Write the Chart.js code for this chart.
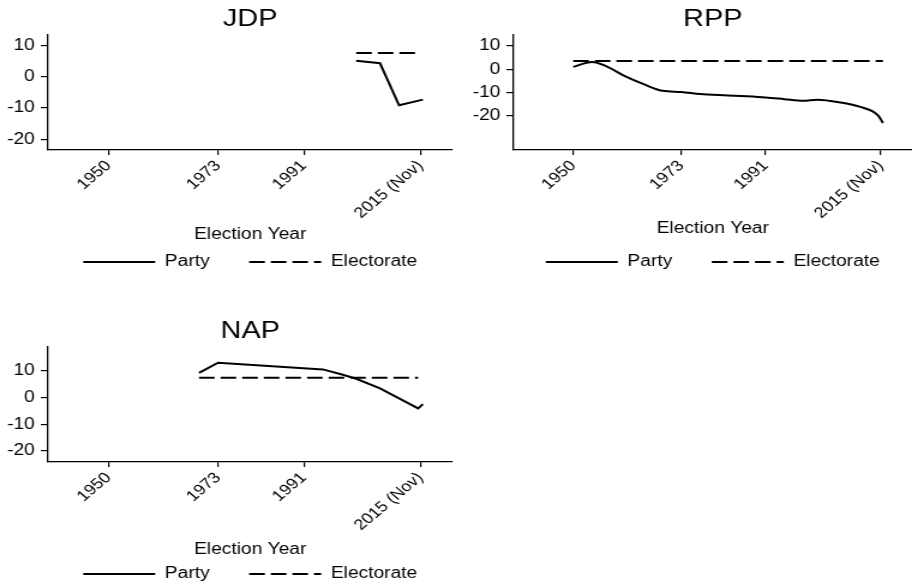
<!DOCTYPE html>
<html>
<head>
<meta charset="utf-8">
<title>Party vs Electorate</title>
<script src="https://cdn.jsdelivr.net/npm/chart.js@4.4.1/dist/chart.umd.min.js"></script>
<style>
  html, body { margin: 0; padding: 0; background: #fff; overflow: hidden; }
  #wrap { position: relative; width: 912px; height: 586px; overflow: hidden; background: #fff; }
  #wrap canvas { position: absolute; transform-origin: 0 0; transform: scaleX(1.2); }
</style>
</head>
<body>
<div id="wrap">
  <canvas id="jdp" width="417" height="280" style="left:0;top:0"></canvas>
  <canvas id="rpp" width="428" height="280" style="left:456px;top:0"></canvas>
  <canvas id="nap" width="417" height="280" style="left:0;top:312px"></canvas>
</div>
<script>
// x axis
const xTicks = [1950, 1973, 1991, 2015.5];
const xTickLabels = ['1950', '1973', '1991', '2015 (Nov)'];
const yTicks = [-20, -10, 0, 10];

// JDP
const jdpYears = [2002, 2007, 2011, 2016];
const jdpParty = [5.2, 4.4, -9.1, -7.3];
const jdpElecYears = [2002, 2015];
const jdpElectorate = [7.7, 7.7];

// RPP
const rppYears = [1950, 1954, 1957, 1961, 1965, 1969, 1973, 1977, 1983, 1987, 1991, 1995, 1999, 2002, 2007, 2011, 2015, 2016];
const rppParty = [1.0, 3.1, 1.3, -3.0, -6.4, -9.2, -9.7, -10.6, -11.2, -11.6, -12.1, -12.8, -13.5, -13.0, -14.2, -16.0, -19.8, -23.0];
const rppElecYears = [1950, 2016];
const rppElectorate = [3.5, 3.5];

// NAP
const napYears = [1969, 1973, 1995, 1999, 2002, 2007, 2015, 2016];
const napParty = [9.3, 13.1, 10.6, 8.7, 7.1, 3.5, -4.0, -2.4];
const napElecYears = [1969, 2015];
const napElectorate = [7.5, 7.5];

Chart.defaults.font.family = '"Liberation Sans", Arial, sans-serif';
Chart.defaults.color = '#000';

function points(xs, ys) {
  return xs.map((x, i) => ({ x: x, y: ys[i] }));
}

// legend items: take dash and width from the dataset, not from point 0
function legendLabels(chart) {
  const items = Chart.defaults.plugins.legend.labels.generateLabels(chart);
  items.forEach(it => {
    const ds = chart.data.datasets[it.datasetIndex];
    it.lineDash = ds.borderDash || [];
    it.lineWidth = ds.borderWidth;
    it.strokeStyle = ds.borderColor;
  });
  return items;
}

function makePanel(id, title, party, electorate, yMin, yMax, axisW, xTitlePad, smooth) {
  const ctx = document.getElementById(id).getContext('2d');
  return new Chart(ctx, {
    type: 'line',
    data: {
      datasets: [{
        label: 'Party',
        data: party,
        borderColor: '#000',
        borderWidth: 2,
        pointRadius: 0,
        fill: false,
        tension: 0,
        cubicInterpolationMode: smooth ? 'monotone' : 'default'
      }, {
        label: 'Electorate',
        data: electorate,
        borderColor: '#000',
        borderWidth: 2,
        borderDash: [13, 5],
        pointRadius: 0,
        fill: false
      }]
    },
    options: {
      responsive: false,
      animation: false,
      devicePixelRatio: 1,
      layout: { padding: 0 },
      plugins: {
        title: {
          display: true,
          text: title,
          color: '#000',
          font: { size: 24, weight: 'normal' },
          padding: { top: 4.6, bottom: 1.6 }
        },
        legend: {
          position: 'bottom',
          labels: {
            usePointStyle: true,
            pointStyle: 'line',
            pointStyleWidth: 60,
            padding: 33,
            color: '#000',
            font: { size: 16 },
            generateLabels: legendLabels
          }
        },
        tooltip: { enabled: false }
      },
      scales: {
        x: {
          type: 'linear',
          min: 1937.3,
          max: 2022.2,
          afterBuildTicks: axis => { axis.ticks = xTicks.map(v => ({ value: v })); },
          afterFit: s => { s.height = 71; },
          ticks: {
            autoSkip: false,
            minRotation: 45,
            maxRotation: 45,
            padding: 2,
            font: { size: 15 },
            color: '#000',
            callback: v => xTickLabels[xTicks.indexOf(v)]
          },
          grid: { drawOnChartArea: false, tickLength: 5, color: '#000', lineWidth: 1.2 },
          border: { display: true, color: '#000', width: 1.3 },
          title: {
            display: true,
            text: 'Election Year',
            color: '#000',
            font: { size: 16 },
            padding: { top: 0, bottom: xTitlePad }
          }
        },
        y: {
          type: 'linear',
          min: yMin,
          max: yMax,
          afterBuildTicks: axis => { axis.ticks = yTicks.map(v => ({ value: v })); },
          afterFit: s => { s.width = axisW; },
          ticks: { padding: 5, font: { size: 16 }, color: '#000' },
          grid: { drawOnChartArea: false, tickLength: 6, color: '#000', lineWidth: 1.2 },
          border: { display: true, color: '#000', width: 1.3 }
        },
        yr: {
          type: 'linear',
          position: 'right',
          display: true,
          afterFit: s => { s.width = axisW; },
          ticks: { display: false },
          grid: { display: false },
          border: { display: false }
        }
      }
    }
  });
}

makePanel('jdp', 'JDP', points(jdpYears, jdpParty), points(jdpElecYears, jdpElectorate), -23.5, 13.5, 40, -23.1, false);
makePanel('rpp', 'RPP', points(rppYears, rppParty), points(rppElecYears, rppElectorate), -34.5, 14.6, 48, -17.1, true);
makePanel('nap', 'NAP', points(napYears, napParty), points(napElecYears, napElectorate), -24.1, 19, 40, -25.9, false);
</script>
</body>
</html>
